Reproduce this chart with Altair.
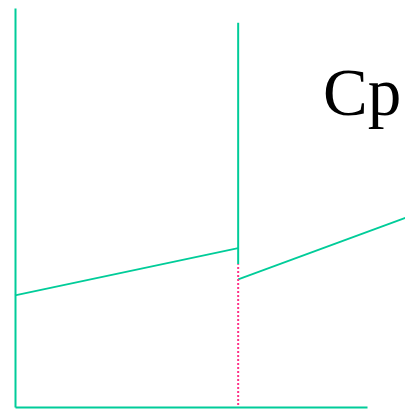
import altair as alt
import pandas as pd

# Data (temperature T in arbitrary units, heat capacity Cp in arbitrary units)
seg1_T = [0.0, 6.34]
seg1_cp = [2.80, 3.98]
seg2_T = [6.34, 11.31]
seg2_cp = [3.20, 4.81]
spike_T = [6.34]
spike_cp_low = [3.58]
spike_cp_high = [9.63]
drop_T = [6.34]
drop_cp_low = [0.05]
drop_cp_high = [3.58]
label_T = [8.75]
label_cp = [7.32]
label_text = ["Cp"]

GREEN = "#00cc99"
PINK = "#ff3388"

xs = alt.Scale(domain=[0, 10], nice=False, zero=False)
ys = alt.Scale(domain=[0, 10], nice=False, zero=False)

lines_df = pd.DataFrame({
    "T": seg1_T + seg2_T,
    "Cp": seg1_cp + seg2_cp,
    "seg": ["a", "a", "b", "b"],
})
spike_df = pd.DataFrame({"T": spike_T, "lo": spike_cp_low, "hi": spike_cp_high})
drop_df = pd.DataFrame({"T": drop_T, "lo": drop_cp_low, "hi": drop_cp_high})
label_df = pd.DataFrame({"T": label_T, "Cp": label_cp, "txt": label_text})

lines = alt.Chart(lines_df).mark_line(color=GREEN, strokeWidth=1.8, clip=False).encode(
    x=alt.X("T:Q", scale=xs, title=None),
    y=alt.Y("Cp:Q", scale=ys, title=None),
    detail="seg:N",
)

spike = alt.Chart(spike_df).mark_rule(color=GREEN, strokeWidth=2).encode(
    x=alt.X("T:Q", scale=xs, title=None),
    y=alt.Y("lo:Q", scale=ys, title=None),
    y2="hi:Q",
)

drop = alt.Chart(drop_df).mark_rule(color=PINK, strokeWidth=2, strokeDash=[2, 2]).encode(
    x=alt.X("T:Q", scale=xs, title=None),
    y=alt.Y("lo:Q", scale=ys, title=None),
    y2="hi:Q",
)

label = alt.Chart(label_df).mark_text(
    font="Liberation Serif", fontSize=67, align="left", baseline="alphabetic", color="black"
).encode(
    x=alt.X("T:Q", scale=xs, title=None),
    y=alt.Y("Cp:Q", scale=ys, title=None),
    text="txt:N",
)

chart = alt.layer(lines, spike, drop, label).properties(
    width=352,
    height=399,
    autosize=alt.AutoSizeParams(type="none"),
    padding={"left": 7, "top": 0, "right": 38, "bottom": 2},
).configure_view(stroke=None).configure_axis(
    domainColor=GREEN, domainWidth=2, ticks=False, labels=False, grid=False
)

chart.save("out.html", embed_options={"renderer": "svg", "actions": False})
